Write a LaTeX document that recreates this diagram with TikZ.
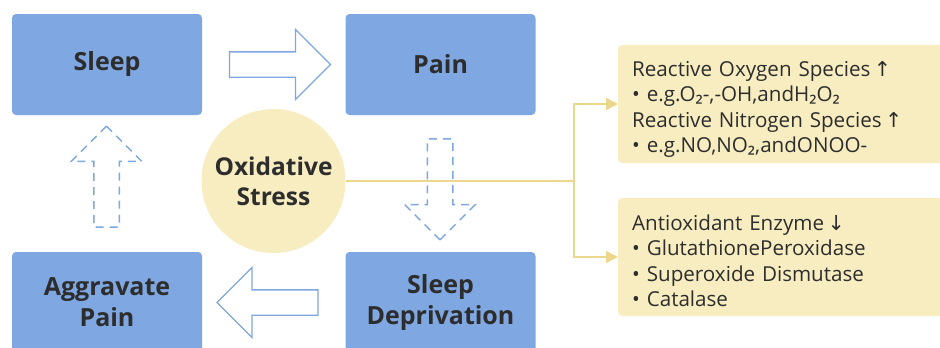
\documentclass[tikz,border=0pt]{standalone}
\usepackage{fontspec}
\setmainfont{Open Sans}
\newfontfamily\arrowfont{DejaVu Sans}
\newfontfamily\subfont{Noto Sans}
\usetikzlibrary{calc,positioning,shapes,shapes.arrows,arrows.meta}
\definecolor{boxblue}{RGB}{127,167,225}
\definecolor{paleyellow}{RGB}{247,237,193}
\definecolor{linkyellow}{RGB}{236,216,140}
\definecolor{darktext}{RGB}{45,45,45}
\newcommand{\up}{{\arrowfont\,↑}}
\newcommand{\down}{{\arrowfont\,↓}}
\newcommand{\two}{{\subfont ₂}}

\begin{document}
\begin{tikzpicture}[x=1pt, y=-1pt,
  box/.style={rectangle, fill=boxblue, rounded corners=4pt, minimum width=190pt, minimum height=101pt,
    align=center, text=darktext, font=\bfseries\fontsize{25}{31}\selectfont},
  fatarrow/.style={single arrow, draw=boxblue, line width=1.3pt, fill=white, inner sep=12pt,
    single arrow head extend=22.5pt, minimum height=101pt},
  dasharrow/.style={fatarrow, line width=1.5pt, dash pattern=on 8pt off 6pt},
  link/.style={draw=linkyellow, line width=1.6pt},
  info/.style={rectangle, fill=paleyellow, rounded corners=4pt, anchor=west, inner xsep=14pt,
    text width=306pt, align=left, text=darktext, font=\fontsize{20.6}{25.5}\selectfont}]
\clip (0,0) rectangle (940,348);
\useasboundingbox (0,0) rectangle (940,348);

\node[box] (sleep) at (107,64.5) {Sleep};
\node[box] (pain) at (440.5,64.5) {Pain};
\node[box] (dep) at (440.5,302.5) {Sleep\\Deprivation};
\node[box] (aggr) at (107,302.5) {Aggravate\\Pain};

% cycle arrows
\node[fatarrow] (a1) at ($(sleep.east)!0.5!(pain.west)$) {};
\node[dasharrow, rotate=-90] (a2) at (440,183) {};
\node[fatarrow, rotate=180] (a3) at ($(dep.west)!0.5!(aggr.east)$) {};
\node[dasharrow, rotate=90] (a4) at (106.5,183) {};

\node[circle, fill=paleyellow, minimum size=144pt, align=center, text=darktext,
  font=\bfseries\fontsize{24.5}{30}\selectfont] (ox) at (273.5,181) {Oxidative\\Stress};

\node[info, minimum height=118pt] (ros) at (618,104) {\rule{0pt}{26pt}Reactive Oxygen Species\up\\
• e.g.O\two-,-OH,andH\two O\two\\
Reactive Nitrogen Species\up\\
• e.g.NO,NO\two,andONOO-};
\node[info, minimum height=118pt] (enz) at (618,257) {\rule{0pt}{23pt}Antioxidant Enzyme\down\\
• GlutathionePeroxidase\\
• Superoxide Dismutase\\
• Catalase};

\coordinate (split) at (574,181);
\draw[link] (ox.east) -- (split);
\draw[link, -{Triangle[length=12pt,width=12pt]}] (split) |- (ros.west);
\draw[link, -{Triangle[length=12pt,width=12pt]}] (split) |- (enz.west);
\end{tikzpicture}
\end{document}
